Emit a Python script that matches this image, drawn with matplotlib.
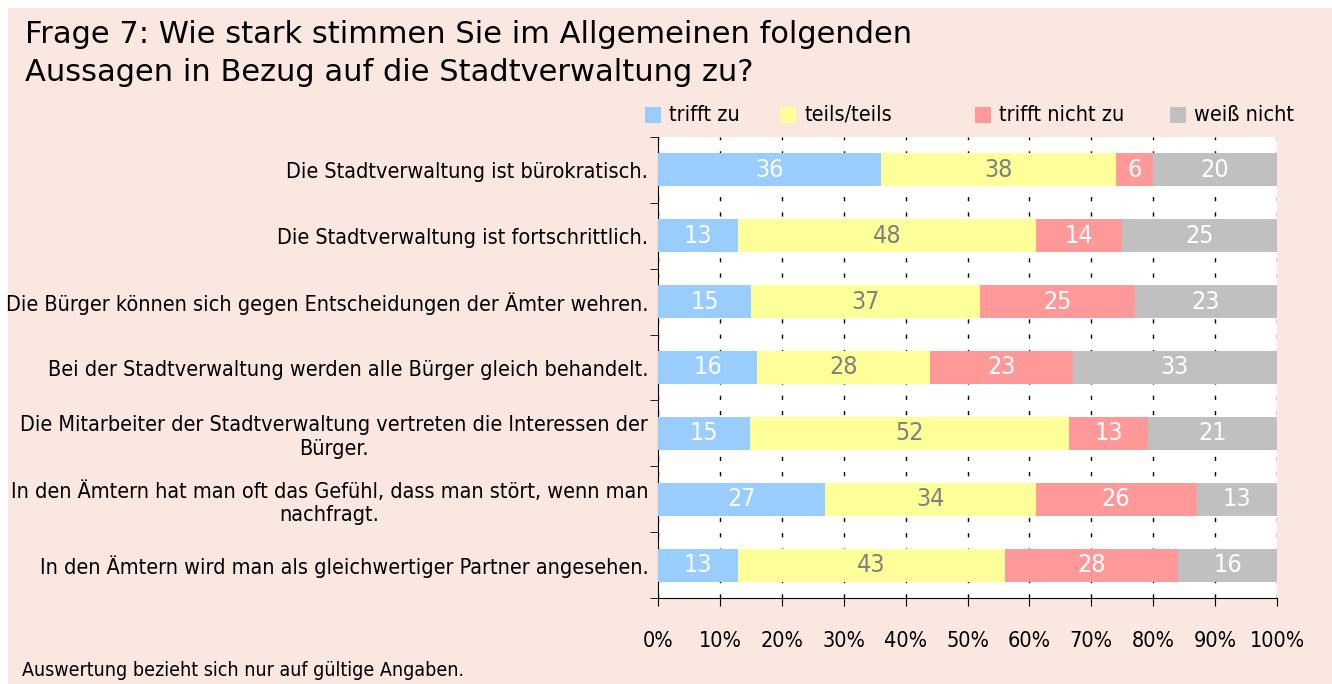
import numpy as np
import matplotlib.pyplot as plt
from matplotlib.patches import Rectangle
from matplotlib.ticker import FixedLocator, PercentFormatter

plt.rcParams['font.family'] = ['DejaVu Sans']
plt.rcParams['font.stretch'] = 'condensed'

categories = [
    'Die Stadtverwaltung ist bürokratisch.',
    'Die Stadtverwaltung ist fortschrittlich.',
    'Die Bürger können sich gegen Entscheidungen der Ämter wehren.',
    'Bei der Stadtverwaltung werden alle Bürger gleich behandelt.',
    'Die Mitarbeiter der Stadtverwaltung vertreten die Interessen der\nBürger.',
    'In den Ämtern hat man oft das Gefühl, dass man stört, wenn man\nnachfragt.',
    'In den Ämtern wird man als gleichwertiger Partner angesehen.',
]
series = ['trifft zu', 'teils/teils', 'trifft nicht zu', 'weiß nicht']
trifft_zu = [36, 13, 15, 16, 15, 27, 13]
teils = [38, 48, 37, 28, 52, 34, 43]
trifft_nicht = [6, 14, 25, 23, 13, 26, 28]
weiss_nicht = [20, 25, 23, 33, 21, 13, 16]

colors = ['#99CCFF', '#FFFF99', '#FF9999', '#C0C0C0']
label_colors = ['white', '#808080', 'white', 'white']
legend_x = [645, 780, 975, 1170]
bg = '#F9E7E0'

fig = plt.figure(figsize=(13.32, 6.84), dpi=100, facecolor='white')
fig.patches.append(Rectangle((8 / 1332, 0), 1, 1 - 8 / 684, transform=fig.transFigure,
                             facecolor=bg, edgecolor='none', zorder=-10))

ax = fig.add_axes([658 / 1332, 1 - 598 / 684, 619 / 1332, 461 / 684])
ax.set_facecolor('white')

data = np.array([trifft_zu, teils, trifft_nicht, weiss_nicht], dtype=float)
share = data / data.sum(axis=0) * 100
y = np.arange(len(categories))
left = np.zeros(len(categories))
for i, name in enumerate(series):
    ax.barh(y, share[i], left=left, height=0.5, color=colors[i], label=name, zorder=3)
    for j in range(len(categories)):
        ax.text(left[j] + share[i][j] / 2, y[j], str(int(data[i][j])), ha='center', va='center',
                color=label_colors[i], fontsize=18, zorder=4)
    left += share[i]
    # legend entry
    fig.patches.append(Rectangle((legend_x[i] / 1332, 1 - 123 / 684), 16 / 1332, 16 / 684,
                                 transform=fig.transFigure, facecolor=colors[i], edgecolor='none'))
    fig.text((legend_x[i] + 24) / 1332, 1 - 115 / 684, name, fontsize=15.5, va='center')

ax.set_xlim(0, 100)
ax.set_ylim(len(categories) - 0.5, -0.5)
ax.xaxis.set_major_locator(FixedLocator(np.arange(0, 101, 10)))
ax.xaxis.set_major_formatter(PercentFormatter(decimals=0))
ax.tick_params(axis='x', direction='out', length=6, pad=18, labelsize=15.5, color='black')
ax.set_yticks(y)
ax.set_yticklabels(categories, multialignment='center')
ax.tick_params(axis='y', which='major', length=0, pad=7, labelsize=15.5)
ax.set_yticks(np.arange(-0.5, len(categories), 1), minor=True)
ax.tick_params(axis='y', which='minor', length=6, direction='out')
ax.grid(axis='x', color='black', linestyle=(0, (3, 8)), linewidth=1, zorder=1)
for s in ['top', 'right']:
    ax.spines[s].set_visible(False)

fig.text(25 / 1332, 1 - 20 / 684, 'Frage 7: Wie stark stimmen Sie im Allgemeinen folgenden\n'
         'Aussagen in Bezug auf die Stadtverwaltung zu?', stretch='normal',
         fontsize=22, va='top', linespacing=1.4)
fig.text(22 / 1332, 1 - 670 / 684, 'Auswertung bezieht sich nur auf gültige Angaben.',
         fontsize=14, va='center')

fig.savefig('out.png', dpi=100, facecolor=fig.get_facecolor())
